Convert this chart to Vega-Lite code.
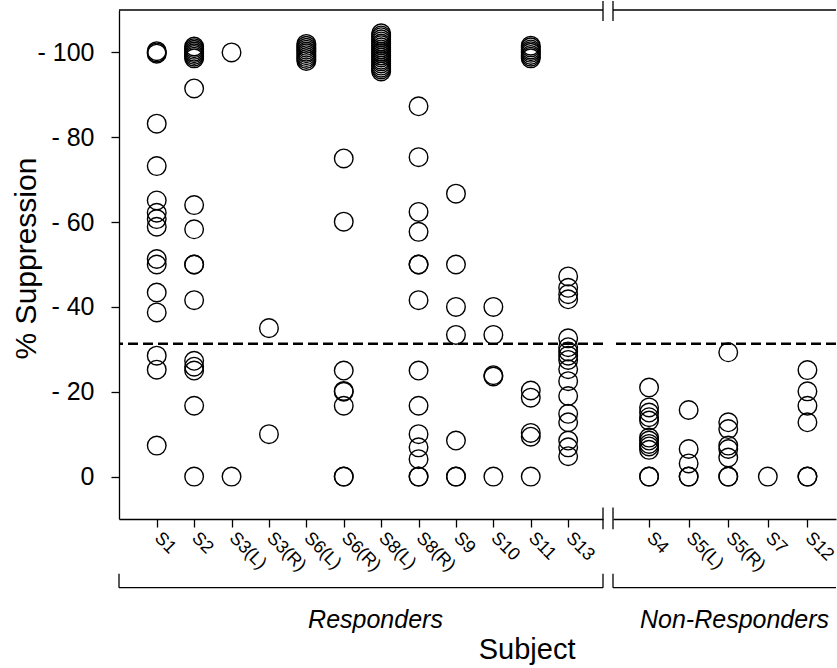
{
  "$schema": "https://vega.github.io/schema/vega-lite/v6.json",
  "padding": {"left": 11, "top": 0, "right": 0, "bottom": 0},
  "background": "white",
  "config": {
    "font": "Liberation Sans",
    "view": {"stroke": null},
    "concat": {"spacing": 10},
    "axis": {
      "domainColor": "black", "tickColor": "black", "labelColor": "black", "titleColor": "black",
      "domainWidth": 1.3, "tickWidth": 1.3, "tickSize": 8, "grid": false
    }
  },
  "bounds": "flush",
  "title": {"text": "Subject", "orient": "bottom", "anchor": "middle", "fontSize": 29, "fontWeight": "normal", "color": "black", "dx": 103, "offset": 4},
  "datasets": {
    "resp": [
      {"subject": "S1", "suppression": 100.3}, {"subject": "S1", "suppression": 100}, {"subject": "S1", "suppression": 99.7},
      {"subject": "S1", "suppression": 83.2}, {"subject": "S1", "suppression": 73.2}, {"subject": "S1", "suppression": 65.1},
      {"subject": "S1", "suppression": 62.2}, {"subject": "S1", "suppression": 60.7}, {"subject": "S1", "suppression": 58.9},
      {"subject": "S1", "suppression": 51.3}, {"subject": "S1", "suppression": 50.0}, {"subject": "S1", "suppression": 43.4},
      {"subject": "S1", "suppression": 38.7}, {"subject": "S1", "suppression": 28.5}, {"subject": "S1", "suppression": 25.2},
      {"subject": "S1", "suppression": 7.3},
      {"subject": "S2", "suppression": 98.6}, {"subject": "S2", "suppression": 99.0}, {"subject": "S2", "suppression": 99.4},
      {"subject": "S2", "suppression": 99.8}, {"subject": "S2", "suppression": 100.2}, {"subject": "S2", "suppression": 100.6},
      {"subject": "S2", "suppression": 101.0}, {"subject": "S2", "suppression": 101.4},
      {"subject": "S2", "suppression": 91.5}, {"subject": "S2", "suppression": 64.0}, {"subject": "S2", "suppression": 58.3},
      {"subject": "S2", "suppression": 50.0}, {"subject": "S2", "suppression": 50.0}, {"subject": "S2", "suppression": 41.6},
      {"subject": "S2", "suppression": 27.3}, {"subject": "S2", "suppression": 25.9}, {"subject": "S2", "suppression": 25.0},
      {"subject": "S2", "suppression": 16.7}, {"subject": "S2", "suppression": 0},
      {"subject": "S3(L)", "suppression": 100}, {"subject": "S3(L)", "suppression": 0},
      {"subject": "S3(R)", "suppression": 35.0}, {"subject": "S3(R)", "suppression": 10.0},
      {"subject": "S6(L)", "suppression": 98.0}, {"subject": "S6(L)", "suppression": 98.45}, {"subject": "S6(L)", "suppression": 98.9},
      {"subject": "S6(L)", "suppression": 99.35}, {"subject": "S6(L)", "suppression": 99.8}, {"subject": "S6(L)", "suppression": 100.2},
      {"subject": "S6(L)", "suppression": 100.65}, {"subject": "S6(L)", "suppression": 101.1}, {"subject": "S6(L)", "suppression": 101.55},
      {"subject": "S6(L)", "suppression": 102.0},
      {"subject": "S6(R)", "suppression": 75.0}, {"subject": "S6(R)", "suppression": 60.1}, {"subject": "S6(R)", "suppression": 25.0},
      {"subject": "S6(R)", "suppression": 20.2}, {"subject": "S6(R)", "suppression": 20.0}, {"subject": "S6(R)", "suppression": 16.7},
      {"subject": "S6(R)", "suppression": 0}, {"subject": "S6(R)", "suppression": 0},
      {"subject": "S8(L)", "suppression": 95.5}, {"subject": "S8(L)", "suppression": 96.0}, {"subject": "S8(L)", "suppression": 96.4},
      {"subject": "S8(L)", "suppression": 96.9}, {"subject": "S8(L)", "suppression": 97.4}, {"subject": "S8(L)", "suppression": 97.9},
      {"subject": "S8(L)", "suppression": 98.3}, {"subject": "S8(L)", "suppression": 98.8}, {"subject": "S8(L)", "suppression": 99.3},
      {"subject": "S8(L)", "suppression": 99.8}, {"subject": "S8(L)", "suppression": 100.2}, {"subject": "S8(L)", "suppression": 100.7},
      {"subject": "S8(L)", "suppression": 101.2}, {"subject": "S8(L)", "suppression": 101.7}, {"subject": "S8(L)", "suppression": 102.1},
      {"subject": "S8(L)", "suppression": 102.6}, {"subject": "S8(L)", "suppression": 103.1}, {"subject": "S8(L)", "suppression": 103.6},
      {"subject": "S8(L)", "suppression": 104.0}, {"subject": "S8(L)", "suppression": 104.5},
      {"subject": "S8(R)", "suppression": 87.3}, {"subject": "S8(R)", "suppression": 75.3}, {"subject": "S8(R)", "suppression": 62.4},
      {"subject": "S8(R)", "suppression": 57.7}, {"subject": "S8(R)", "suppression": 50.0}, {"subject": "S8(R)", "suppression": 50.0},
      {"subject": "S8(R)", "suppression": 41.6}, {"subject": "S8(R)", "suppression": 25.0}, {"subject": "S8(R)", "suppression": 16.7},
      {"subject": "S8(R)", "suppression": 10.0}, {"subject": "S8(R)", "suppression": 6.9}, {"subject": "S8(R)", "suppression": 4.1},
      {"subject": "S8(R)", "suppression": 0}, {"subject": "S8(R)", "suppression": 0},
      {"subject": "S9", "suppression": 66.7}, {"subject": "S9", "suppression": 50.0}, {"subject": "S9", "suppression": 40.0},
      {"subject": "S9", "suppression": 33.4}, {"subject": "S9", "suppression": 8.5}, {"subject": "S9", "suppression": 0},
      {"subject": "S9", "suppression": 0},
      {"subject": "S10", "suppression": 40.0}, {"subject": "S10", "suppression": 33.4}, {"subject": "S10", "suppression": 23.9},
      {"subject": "S10", "suppression": 23.6}, {"subject": "S10", "suppression": 0},
      {"subject": "S11", "suppression": 98.6}, {"subject": "S11", "suppression": 99.0}, {"subject": "S11", "suppression": 99.4},
      {"subject": "S11", "suppression": 99.9}, {"subject": "S11", "suppression": 100.3}, {"subject": "S11", "suppression": 100.7},
      {"subject": "S11", "suppression": 101.2}, {"subject": "S11", "suppression": 101.6},
      {"subject": "S11", "suppression": 20.3}, {"subject": "S11", "suppression": 18.6}, {"subject": "S11", "suppression": 10.3},
      {"subject": "S11", "suppression": 9.4}, {"subject": "S11", "suppression": 0},
      {"subject": "S13", "suppression": 47.2}, {"subject": "S13", "suppression": 44.5}, {"subject": "S13", "suppression": 43.0},
      {"subject": "S13", "suppression": 41.8}, {"subject": "S13", "suppression": 32.6}, {"subject": "S13", "suppression": 30.5},
      {"subject": "S13", "suppression": 29.5}, {"subject": "S13", "suppression": 28.5}, {"subject": "S13", "suppression": 27.5},
      {"subject": "S13", "suppression": 25.3}, {"subject": "S13", "suppression": 22.5}, {"subject": "S13", "suppression": 19.0},
      {"subject": "S13", "suppression": 14.8}, {"subject": "S13", "suppression": 12.8}, {"subject": "S13", "suppression": 8.5},
      {"subject": "S13", "suppression": 6.9}, {"subject": "S13", "suppression": 4.8}
    ],
    "nonresp": [
      {"subject": "S4", "suppression": 21.0}, {"subject": "S4", "suppression": 16.3}, {"subject": "S4", "suppression": 15.1},
      {"subject": "S4", "suppression": 14.0}, {"subject": "S4", "suppression": 13.2}, {"subject": "S4", "suppression": 9.2},
      {"subject": "S4", "suppression": 8.5}, {"subject": "S4", "suppression": 7.7}, {"subject": "S4", "suppression": 7.1},
      {"subject": "S4", "suppression": 6.3}, {"subject": "S4", "suppression": 0}, {"subject": "S4", "suppression": 0},
      {"subject": "S5(L)", "suppression": 15.7}, {"subject": "S5(L)", "suppression": 6.5}, {"subject": "S5(L)", "suppression": 3.1},
      {"subject": "S5(L)", "suppression": 0}, {"subject": "S5(L)", "suppression": 0},
      {"subject": "S5(R)", "suppression": 29.3}, {"subject": "S5(R)", "suppression": 12.8}, {"subject": "S5(R)", "suppression": 11.2},
      {"subject": "S5(R)", "suppression": 7.3}, {"subject": "S5(R)", "suppression": 6.5}, {"subject": "S5(R)", "suppression": 4.5},
      {"subject": "S5(R)", "suppression": 0}, {"subject": "S5(R)", "suppression": 0},
      {"subject": "S7", "suppression": 0},
      {"subject": "S12", "suppression": 25.1}, {"subject": "S12", "suppression": 20.1}, {"subject": "S12", "suppression": 16.7},
      {"subject": "S12", "suppression": 12.8}, {"subject": "S12", "suppression": 0}, {"subject": "S12", "suppression": 0}
    ]
  },
  "hconcat": [
    {
      "width": 484,
      "height": 509,
      "layer": [
        {
          "data": {"name": "resp"},
          "mark": {"type": "point", "shape": "circle", "filled": false, "size": 346, "stroke": "black", "strokeWidth": 1.4, "opacity": 1},
          "encoding": {
            "x": {
              "field": "subject", "type": "ordinal",
              "scale": {"type": "point", "domain": ["S1", "S2", "S3(L)", "S3(R)", "S6(L)", "S6(R)", "S8(L)", "S8(R)", "S9", "S10", "S11", "S13"], "padding": 0.97, "align": 0.52},
              "axis": {
                "title": "Responders", "titleFontSize": 25, "titleFontStyle": "italic", "titleFontWeight": "normal",
                "titleX": 256, "titleY": 88, "titleBaseline": "top", "titleAlign": "center",
                "labelAngle": 45, "labelFontSize": 18, "labelAlign": "left", "labelBaseline": "middle", "labelPadding": 8
              }
            },
            "y": {
              "field": "suppression", "type": "quantitative",
              "scale": {"domain": [-10, 110], "nice": false, "zero": false},
              "axis": {
                "title": "% Suppression", "titleFontSize": 30, "titleFontWeight": "normal",
                "titleX": -78, "titleY": 248,
                "values": [0, 20, 40, 60, 80, 100],
                "labelExpr": "datum.value == 0 ? '0' : '- ' + datum.label",
                "labelFontSize": 25, "labelPadding": 17
              }
            }
          }
        },
        {
          "data": {"values": [{"threshold": 31.3}]},
          "mark": {"type": "rule", "color": "black", "strokeWidth": 2.5, "strokeDash": [10, 5]},
          "encoding": {"y": {"field": "threshold", "type": "quantitative"}}
        },
        {
          "data": {"values": [{"top": 110}]},
          "mark": {"type": "rule", "color": "black", "strokeWidth": 1.3},
          "encoding": {"y": {"field": "top", "type": "quantitative"}}
        },
        {
          "data": {"values": [{"a": 112.1, "b": 107.4}, {"a": -7.3, "b": -12.4}]},
          "mark": {"type": "rule", "color": "black", "strokeWidth": 1.3, "clip": false},
          "encoding": {"x": {"value": "width"}, "y": {"field": "a", "type": "quantitative"}, "y2": {"field": "b"}}
        },
        {
          "data": {"values": [{"a": -26.2}]},
          "mark": {"type": "rule", "color": "black", "strokeWidth": 1.3, "clip": false},
          "encoding": {"y": {"field": "a", "type": "quantitative"}}
        },
        {
          "data": {"values": [{"a": -22.9, "b": -26.2}]},
          "mark": {"type": "rule", "color": "black", "strokeWidth": 1.3, "clip": false},
          "encoding": {"x": {"value": 0}, "y": {"field": "a", "type": "quantitative"}, "y2": {"field": "b"}}
        },
        {
          "data": {"values": [{"a": -22.9, "b": -26.2}]},
          "mark": {"type": "rule", "color": "black", "strokeWidth": 1.3, "clip": false},
          "encoding": {"x": {"value": "width"}, "y": {"field": "a", "type": "quantitative"}, "y2": {"field": "b"}}
        }
      ]
    },
    {
      "width": 223,
      "height": 509,
      "layer": [
        {
          "data": {"name": "nonresp"},
          "mark": {"type": "point", "shape": "circle", "filled": false, "size": 346, "stroke": "black", "strokeWidth": 1.4, "opacity": 1},
          "encoding": {
            "x": {
              "field": "subject", "type": "ordinal",
              "scale": {"type": "point", "domain": ["S4", "S5(L)", "S5(R)", "S7", "S12"], "padding": 0.816, "align": 0.558},
              "axis": {
                "title": "Non-Responders", "titleFontSize": 25, "titleFontStyle": "italic", "titleFontWeight": "normal",
                "titleX": 121, "titleY": 88, "titleBaseline": "top", "titleAlign": "center",
                "labelAngle": 45, "labelFontSize": 18, "labelAlign": "left", "labelBaseline": "middle", "labelPadding": 8
              }
            },
            "y": {
              "field": "suppression", "type": "quantitative",
              "scale": {"domain": [-10, 110], "nice": false, "zero": false},
              "axis": null
            }
          }
        },
        {
          "data": {"values": [{"threshold": 31.3}]},
          "mark": {"type": "rule", "color": "black", "strokeWidth": 2.5, "strokeDash": [10, 5]},
          "encoding": {"y": {"field": "threshold", "type": "quantitative"}}
        },
        {
          "data": {"values": [{"top": 110}]},
          "mark": {"type": "rule", "color": "black", "strokeWidth": 1.3},
          "encoding": {"y": {"field": "top", "type": "quantitative"}}
        },
        {
          "data": {"values": [{"a": 112.1, "b": 107.4}, {"a": -7.3, "b": -12.4}, {"a": -22.9, "b": -26.2}]},
          "mark": {"type": "rule", "color": "black", "strokeWidth": 1.3, "clip": false},
          "encoding": {"x": {"value": 0}, "y": {"field": "a", "type": "quantitative"}, "y2": {"field": "b"}}
        },
        {
          "data": {"values": [{"a": -26.2}]},
          "mark": {"type": "rule", "color": "black", "strokeWidth": 1.3, "clip": false},
          "encoding": {"y": {"field": "a", "type": "quantitative"}}
        }
      ]
    }
  ]
}
